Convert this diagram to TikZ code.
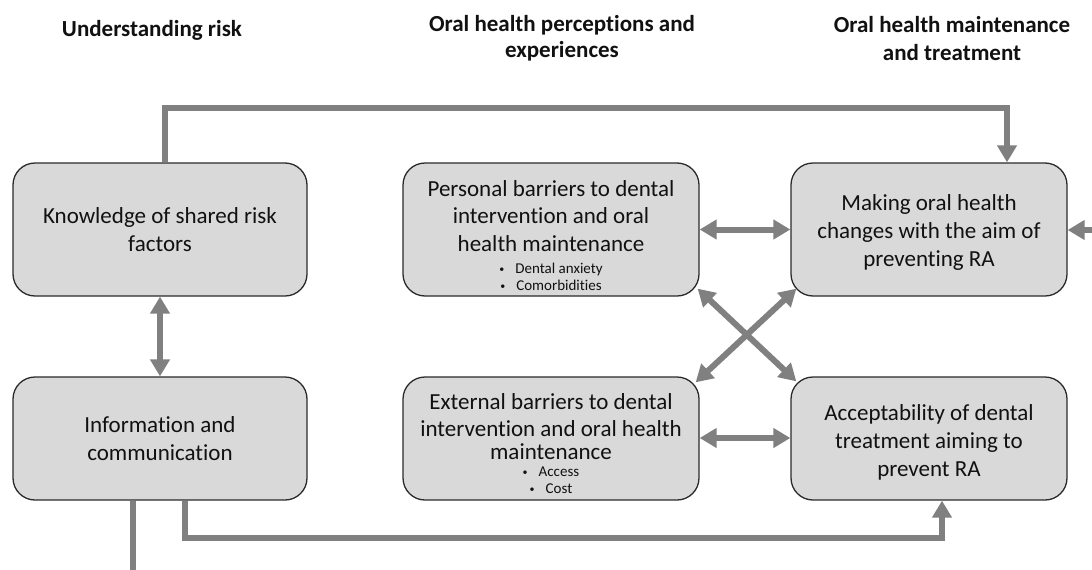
\documentclass[tikz,border=0pt]{standalone}
\usepackage{fontspec}
\setmainfont{Carlito}[Ligatures={NoCommon}]
\usetikzlibrary{arrows.meta}
\definecolor{arrgray}{HTML}{808080}
\definecolor{boxfill}{HTML}{D9D9D9}
\definecolor{boxdraw}{HTML}{2B2B2B}
\definecolor{txt}{HTML}{111111}
\newcommand{\bul}[1]{\raisebox{1.3pt}{\fontsize{10}{17}\selectfont\textbullet}\hspace{11pt}{\fontsize{15}{17}\selectfont #1}}
\newcommand{\shiftdown}[1]{\rule{0pt}{#1}}
\begin{document}
\begin{tikzpicture}[x=1pt,y=-1pt,
  box/.style={draw=boxdraw, line width=1.3pt, fill=boxfill, rounded corners=22pt,
    align=center, inner sep=0pt, text=txt, font=\fontsize{23}{28}\selectfont},
  conn/.style={draw=arrgray, line width=6pt},
  arr/.style={conn, -{Triangle[length=17pt,width=19pt]}},
  dbl/.style={conn, {Triangle[length=17pt,width=19pt]}-{Triangle[length=17pt,width=19pt]}},
  head/.style={font=\bfseries\fontsize{23}{25.5}\selectfont, align=center, inner sep=0pt, text=txt, anchor=base}]
\useasboundingbox (0,0) rectangle (1092,570);
\fill[white] (0,0) rectangle (1092,570);

% headers (anchor=base is the baseline of the last line)
\node[head] (h1) at (152,36) {Understanding risk};
\node[head] (h2) at (562,57) {Oral health perceptions and\\experiences};
\node[head, font=\bfseries\fontsize{23}{28}\selectfont] (h3) at (952,60.3) {Oral health maintenance\\and treatment};

% boxes
\node[box, minimum width=294pt, minimum height=133pt] (K) at (160,229.5)
  {Knowledge of shared risk\\factors};
\node[box, minimum width=294pt, minimum height=123pt] (I) at (160,438.5)
  {Information and\\communication};
\node[box, minimum width=296pt, minimum height=133pt] (P) at (551,229.5)
  {\shiftdown{28pt}Personal barriers to dental\\[-0.5pt]intervention and oral\\[-0.5pt]health maintenance\\[-6pt]\bul{Dental anxiety}\\[-11pt]\bul{Comorbidities}};
\node[box, minimum width=296pt, minimum height=123pt] (E) at (551,438.5)
  {\shiftdown{26pt}External barriers to dental\\[-1pt]intervention and oral health\\[-5pt]maintenance\\[-11pt]\bul{Access}\\[-11pt]\bul{Cost}};
\node[box, minimum width=276pt, minimum height=133pt] (M) at (929,229.5)
  {\shiftdown{22.5pt}Making oral health\\changes with the aim of\\preventing RA};
\node[box, minimum width=276pt, minimum height=123pt] (A) at (929,438.5)
  {\shiftdown{23pt}Acceptability of dental\\treatment aiming to\\prevent RA};

% coordinates
\coordinate (t1) at (165,108);
\coordinate (t2) at (1007,108);
\coordinate (r) at (1092,230);
\coordinate (b1) at (133,570);
\coordinate (c1) at (185,538);
\coordinate (c2) at (942,538);

% connectors
\draw[arr] (t1 |- K.north) -- (t1) -- (t2) -- (t2 |- M.north);
\draw[dbl] (K.south) -- (I.north);
\draw[dbl] (P.east) -- (M.west);
\draw[dbl] (E.east |- 0,438) -- (A.west |- 0,438);
\draw[dbl] ([xshift=-2pt,yshift=8pt]P.south east) -- ([xshift=6pt,yshift=-5pt]A.north west);
\draw[dbl] ([xshift=-4pt,yshift=-6pt]E.north east) -- ([xshift=6pt,yshift=8pt]M.south west);
\draw[arr] (r) -- (M.east |- r);
\draw[conn] (b1 |- I.south) -- (b1);
\draw[arr] (c1 |- I.south) -- (c1) -- (c2) -- (c2 |- A.south);
\end{tikzpicture}
\end{document}
